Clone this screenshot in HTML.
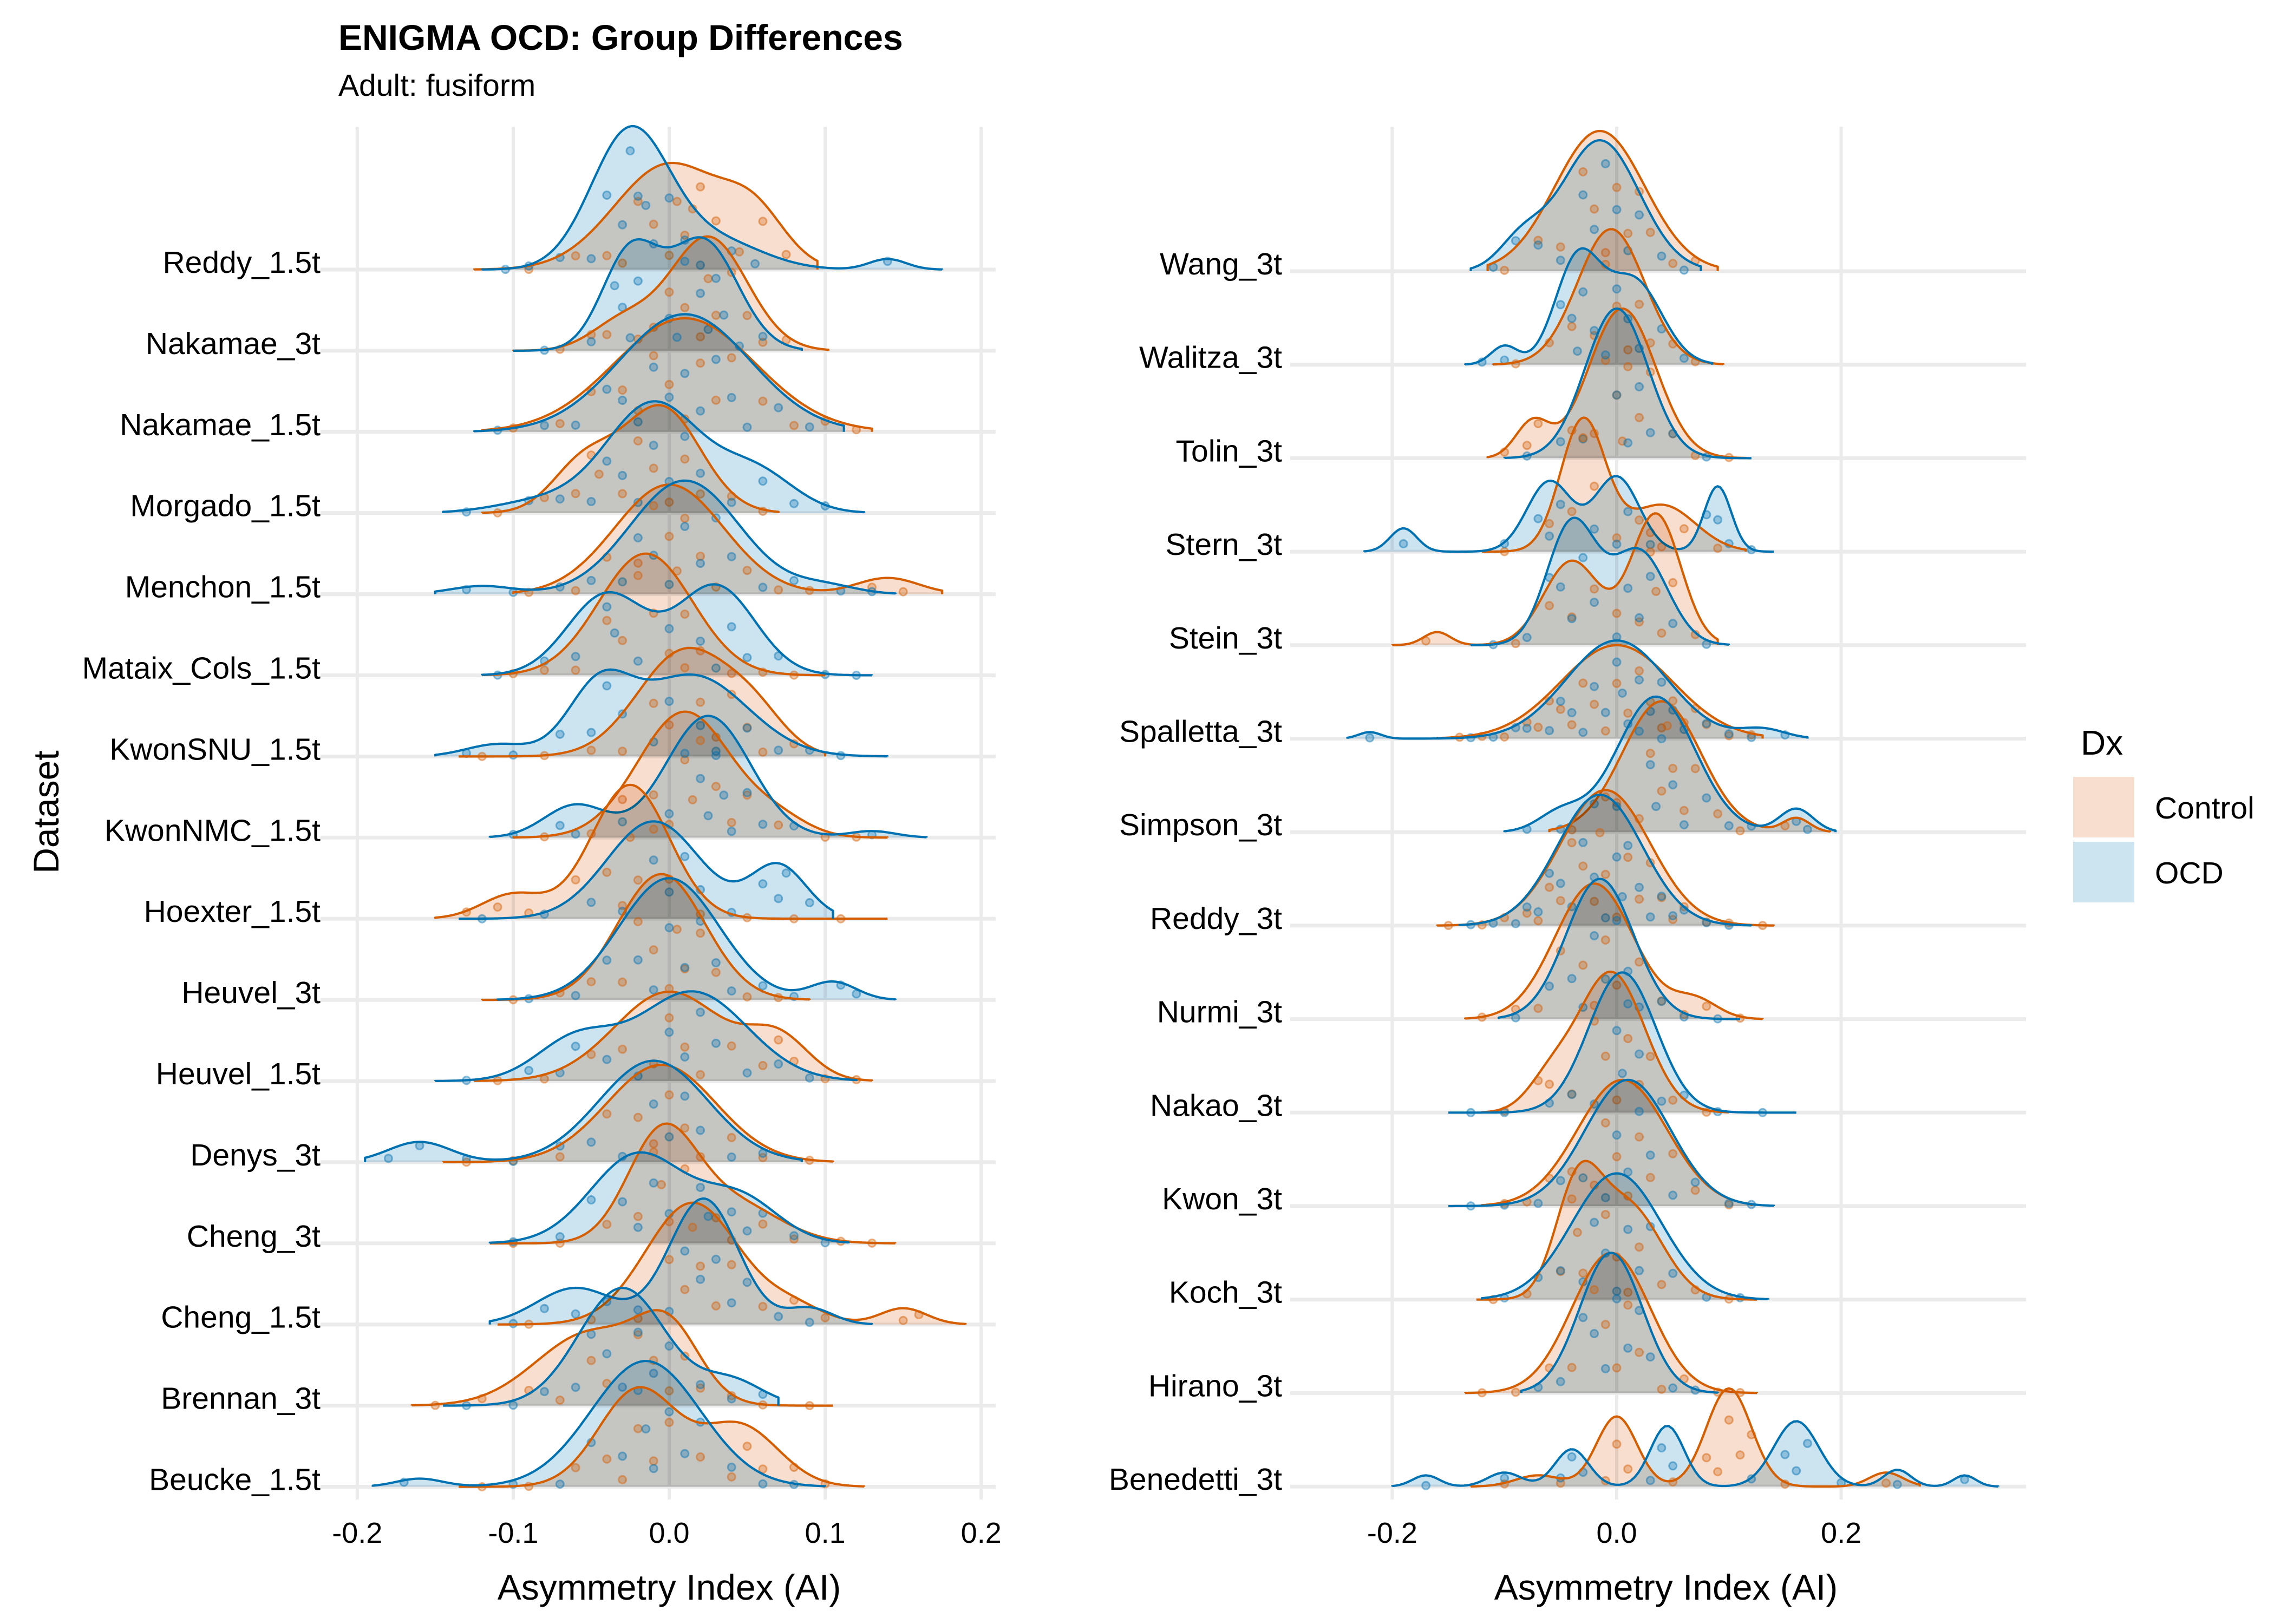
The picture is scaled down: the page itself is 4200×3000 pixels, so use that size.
<!DOCTYPE html>
<html><head><meta charset="utf-8"><style>
html,body{margin:0;padding:0;background:#fff}
svg{display:block;font-family:"Liberation Sans",Arial,sans-serif}
.fill{mix-blend-mode:multiply}
</style></head><body>
<svg id="chart" width="4200" height="3000" viewBox="0 0 4200 3000" xmlns="http://www.w3.org/2000/svg">
<rect width="4200" height="3000" fill="#fff"/>
<text x="625" y="92" font-size="66" font-weight="bold">ENIGMA OCD: Group Differences</text>
<text x="625" y="177" font-size="57">Adult: fusiform</text>
<g id="gridL"></g>
<g id="gridR"></g>
<g id="ridgesL"></g>
<g id="ridgesR"></g>
<g id="labelsL"></g>
<g id="labelsR"></g>
<g id="ticksL"></g>
<g id="ticksR"></g>
<text x="1236" y="2955" font-size="66" text-anchor="middle">Asymmetry Index (AI)</text>
<text x="3077" y="2955" font-size="66" text-anchor="middle">Asymmetry Index (AI)</text>
<text x="0" y="0" font-size="66" text-anchor="middle" transform="translate(108,1500) rotate(-90)">Dataset</text>
<g>
<text x="3843" y="1394" font-size="64">Dx</text>
<rect x="3829" y="1435" width="113" height="112" fill="#F7DECE"/>
<rect x="3829" y="1555" width="113" height="112" fill="#CCE3F0"/>
<text x="3980" y="1512" font-size="57">Control</text>
<text x="3980" y="1632" font-size="57">OCD</text>
</g>
</svg>
<script>
// ---------- LEFT PANEL DATA (top to bottom) ----------
const labelsL = ["Reddy_1.5t","Nakamae_3t","Nakamae_1.5t","Morgado_1.5t","Menchon_1.5t","Mataix_Cols_1.5t","KwonSNU_1.5t","KwonNMC_1.5t","Hoexter_1.5t","Heuvel_3t","Heuvel_1.5t","Denys_3t","Cheng_3t","Cheng_1.5t","Brennan_3t","Beucke_1.5t"];
const ticksL = [-0.2,-0.1,0.0,0.1,0.2];
const tickLabelsL = ["-0.2","-0.1","0.0","0.1","0.2"];
const ctrlBumpsL = [
 [[0,0.035,1.3],[0.055,0.02,0.55]],
 [[0.025,0.025,1.4],[-0.03,0.02,0.35]],
 [[0.01,0.045,1.4]],
 [[-0.055,0.02,0.6],[-0.005,0.025,1.3]],
 [[0.0,0.035,1.35],[0.14,0.02,0.2]],
 [[-0.015,0.03,1.5]],
 [[0.01,0.03,1.3],[0.055,0.02,0.4]],
 [[0.01,0.03,1.55],[0.07,0.02,0.2]],
 [[-0.025,0.025,1.65],[-0.1,0.02,0.3]],
 [[-0.005,0.028,1.55]],
 [[0.0,0.035,1.1],[0.07,0.02,0.5]],
 [[-0.005,0.035,1.2]],
 [[-0.005,0.022,1.3],[0.04,0.03,0.5]],
 [[0.015,0.03,1.5],[0.15,0.015,0.2],[0.08,0.02,0.2]],
 [[0.0,0.02,0.8],[-0.05,0.035,0.9]],
 [[-0.02,0.025,1.2],[0.045,0.025,0.75]]
];
const ocdBumpsL = [
 [[-0.025,0.025,1.7],[0.03,0.03,0.35],[0.14,0.012,0.13]],
 [[-0.025,0.018,1.2],[0.022,0.022,1.35]],
 [[0.01,0.042,1.45]],
 [[-0.01,0.03,1.35],[0.055,0.025,0.5],[-0.08,0.03,0.15]],
 [[0.01,0.035,1.4],[-0.12,0.02,0.1],[0.1,0.02,0.1]],
 [[-0.04,0.025,1.0],[0.03,0.025,1.1]],
 [[-0.045,0.02,0.8],[0.015,0.035,1.0],[-0.11,0.02,0.15]],
 [[0.025,0.027,1.5],[-0.06,0.02,0.4],[0.13,0.015,0.08]],
 [[-0.01,0.03,1.2],[0.07,0.018,0.65]],
 [[0.0,0.032,1.5],[0.105,0.015,0.22]],
 [[0.015,0.035,1.1],[-0.06,0.025,0.5]],
 [[-0.01,0.035,1.25],[-0.16,0.02,0.25]],
 [[-0.02,0.03,1.1],[0.045,0.025,0.55]],
 [[0.022,0.022,1.55],[-0.06,0.025,0.45],[0.09,0.015,0.2]],
 [[-0.03,0.028,1.45],[0.04,0.02,0.3]],
 [[-0.015,0.035,1.55],[-0.16,0.015,0.1]]
];
const ctrlRangeL = [[-0.125,0.095],[-0.1,0.102],[-0.12,0.13],[-0.12,0.07],[-0.1,0.175],[-0.12,0.1],[-0.135,0.1],[-0.1,0.14],[-0.15,0.14],[-0.12,0.09],[-0.125,0.13],[-0.145,0.105],[-0.115,0.145],[-0.11,0.19],[-0.165,0.105],[-0.135,0.125]];
const ocdRangeL = [[-0.12,0.175],[-0.1,0.085],[-0.125,0.112],[-0.145,0.125],[-0.15,0.145],[-0.12,0.13],[-0.15,0.14],[-0.115,0.165],[-0.135,0.105],[-0.11,0.145],[-0.15,0.12],[-0.195,0.085],[-0.115,0.115],[-0.115,0.13],[-0.145,0.07],[-0.19,0.1]];
const ctrlPtsL = [
 [-0.09,-0.06,-0.04,-0.02,-0.01,0.0,0.005,0.01,0.02,0.03,0.045,0.06,0.075,-0.03,0.015],
 [-0.07,-0.05,-0.04,-0.02,0.0,0.01,0.02,0.025,0.03,0.04,0.05,0.06,0.075,-0.01],
 [-0.1,-0.07,-0.05,-0.03,-0.02,-0.01,0.0,0.01,0.02,0.03,0.04,0.06,0.08,0.1,0.12],
 [-0.11,-0.08,-0.06,-0.05,-0.045,-0.03,-0.02,-0.01,0.0,0.01,0.02,0.04,0.06],
 [-0.09,-0.06,-0.04,-0.02,-0.01,0.0,0.005,0.01,0.02,0.03,0.05,0.07,0.09,0.13,0.15],
 [-0.1,-0.08,-0.06,-0.04,-0.03,-0.02,-0.01,0.0,0.01,0.02,0.04,0.06,0.08],
 [-0.12,-0.08,-0.05,-0.03,-0.01,0.0,0.01,0.02,0.03,0.04,0.05,0.06,0.08],
 [-0.08,-0.05,-0.03,-0.01,0.0,0.01,0.015,0.02,0.03,0.04,0.05,0.07,0.1,0.12],
 [-0.13,-0.11,-0.09,-0.06,-0.04,-0.03,-0.025,-0.02,-0.01,0.0,0.02,0.05,0.08,0.11],
 [-0.1,-0.07,-0.05,-0.03,-0.02,-0.01,0.0,0.005,0.01,0.02,0.03,0.05,0.07],
 [-0.11,-0.08,-0.05,-0.03,-0.01,0.0,0.01,0.02,0.04,0.06,0.07,0.08,0.1,0.12],
 [-0.13,-0.1,-0.07,-0.04,-0.02,-0.01,0.0,0.01,0.02,0.04,0.06,0.09],
 [-0.1,-0.07,-0.04,-0.02,-0.01,-0.005,0.0,0.01,0.03,0.04,0.06,0.08,0.11,0.13],
 [-0.09,-0.05,-0.02,0.0,0.01,0.015,0.02,0.03,0.04,0.06,0.08,0.1,0.15,0.16],
 [-0.15,-0.12,-0.09,-0.07,-0.05,-0.04,-0.02,-0.01,0.0,0.01,0.02,0.04,0.06,0.09],
 [-0.12,-0.09,-0.06,-0.04,-0.03,-0.02,-0.01,0.0,0.02,0.04,0.05,0.06,0.08,0.1]
];
const ocdPtsL = [
 [-0.105,-0.09,-0.07,-0.05,-0.04,-0.03,-0.025,-0.02,-0.01,0.0,0.01,0.02,0.04,0.055,0.14,-0.015],
 [-0.08,-0.05,-0.035,-0.03,-0.025,-0.02,0.0,0.01,0.02,0.025,0.03,0.035,0.045,0.06],
 [-0.11,-0.08,-0.06,-0.04,-0.03,-0.02,-0.01,0.0,0.005,0.01,0.02,0.03,0.04,0.05,0.07,0.09],
 [-0.13,-0.09,-0.07,-0.05,-0.04,-0.03,-0.02,-0.01,0.0,0.01,0.02,0.04,0.06,0.08,0.1],
 [-0.13,-0.1,-0.07,-0.05,-0.03,-0.02,-0.01,0.0,0.01,0.02,0.03,0.04,0.06,0.08,0.11,0.13],
 [-0.11,-0.08,-0.06,-0.04,-0.035,-0.02,0.0,0.02,0.03,0.04,0.05,0.07,0.1,0.12],
 [-0.13,-0.1,-0.07,-0.05,-0.04,-0.03,-0.01,0.0,0.02,0.03,0.05,0.07,0.09,0.11],
 [-0.1,-0.07,-0.06,-0.03,0.0,0.01,0.02,0.025,0.03,0.035,0.04,0.05,0.06,0.08,0.13],
 [-0.12,-0.08,-0.05,-0.03,-0.01,0.0,0.01,0.02,0.04,0.06,0.07,0.075,0.09],
 [-0.09,-0.06,-0.04,-0.02,-0.01,0.0,0.01,0.02,0.03,0.04,0.06,0.08,0.11,0.12],
 [-0.13,-0.09,-0.07,-0.06,-0.04,-0.02,0.0,0.01,0.02,0.03,0.05,0.07,0.09],
 [-0.18,-0.16,-0.13,-0.1,-0.07,-0.05,-0.03,-0.01,0.0,0.01,0.02,0.04,0.06],
 [-0.1,-0.07,-0.05,-0.03,-0.02,-0.01,0.0,0.02,0.04,0.05,0.06,0.08,0.1],
 [-0.1,-0.08,-0.06,-0.04,-0.02,0.0,0.01,0.02,0.025,0.03,0.04,0.05,0.07,0.09],
 [-0.13,-0.1,-0.08,-0.06,-0.05,-0.04,-0.03,-0.02,-0.01,0.0,0.02,0.04,0.06],
 [-0.17,-0.1,-0.07,-0.05,-0.03,-0.02,-0.015,-0.01,0.0,0.01,0.02,0.04,0.06,0.08]
];
// ---------- RIGHT PANEL DATA (top to bottom) ----------
const labelsR = ["Wang_3t","Walitza_3t","Tolin_3t","Stern_3t","Stein_3t","Spalletta_3t","Simpson_3t","Reddy_3t","Nurmi_3t","Nakao_3t","Kwon_3t","Koch_3t","Hirano_3t","Benedetti_3t"];
const ticksR = [-0.2,0.0,0.2];
const tickLabelsR = ["-0.2","0.0","0.2"];
const ctrlBumpsR = [
 [[-0.015,0.04,1.5]],
 [[-0.005,0.03,1.45]],
 [[0.005,0.03,1.6],[-0.075,0.015,0.38]],
 [[-0.03,0.02,1.4],[0.04,0.03,0.5]],
 [[0.035,0.022,1.4],[-0.04,0.025,0.9],[-0.16,0.012,0.14]],
 [[0.0,0.05,1.0]],
 [[0.04,0.035,1.4],[0.16,0.012,0.15]],
 [[-0.01,0.04,1.45]],
 [[-0.02,0.035,1.45],[0.07,0.02,0.2]],
 [[-0.005,0.03,1.5],[-0.06,0.02,0.3]],
 [[0.005,0.04,1.35]],
 [[-0.035,0.02,1.1],[0.01,0.03,1.0]],
 [[-0.005,0.035,1.5]],
 [[0.0,0.018,0.75],[0.1,0.02,1.05],[0.24,0.015,0.15],[-0.07,0.02,0.12]]
];
const ocdBumpsR = [
 [[-0.015,0.035,1.4],[-0.085,0.02,0.3]],
 [[-0.035,0.02,1.1],[0.015,0.025,0.9],[-0.1,0.012,0.2]],
 [[0.0,0.028,1.6]],
 [[-0.06,0.02,0.75],[0.0,0.02,0.8],[0.09,0.012,0.7],[-0.19,0.012,0.25]],
 [[-0.04,0.022,1.3],[0.02,0.025,1.0]],
 [[0.0,0.045,1.05],[-0.22,0.01,0.07],[0.13,0.02,0.1]],
 [[0.035,0.035,1.45],[0.16,0.015,0.25],[-0.05,0.02,0.2]],
 [[-0.015,0.038,1.4]],
 [[-0.015,0.03,1.5]],
 [[0.005,0.03,1.5]],
 [[0.01,0.038,1.35]],
 [[0.0,0.04,1.35]],
 [[-0.005,0.028,1.5]],
 [[-0.04,0.015,0.4],[0.045,0.015,0.65],[0.16,0.02,0.7],[0.25,0.012,0.18],[0.31,0.01,0.12],[-0.17,0.012,0.12],[-0.1,0.015,0.15]]
];
const ctrlRangeR = [[-0.115,0.09],[-0.11,0.095],[-0.115,0.115],[-0.12,0.115],[-0.2,0.09],[-0.16,0.13],[-0.06,0.19],[-0.16,0.14],[-0.135,0.13],[-0.12,0.1],[-0.12,0.12],[-0.125,0.125],[-0.135,0.125],[-0.13,0.27]];
const ocdRangeR = [[-0.13,0.075],[-0.135,0.085],[-0.1,0.12],[-0.225,0.14],[-0.13,0.1],[-0.24,0.17],[-0.1,0.195],[-0.14,0.12],[-0.105,0.11],[-0.15,0.16],[-0.15,0.14],[-0.12,0.135],[-0.085,0.09],[-0.2,0.34]];
const ctrlPtsR = [
 [-0.1,-0.07,-0.05,-0.03,-0.02,-0.01,0.0,0.01,0.02,0.03,0.05,0.07],
 [-0.09,-0.06,-0.04,-0.02,-0.01,0.0,0.01,0.02,0.03,0.05,0.07],
 [-0.1,-0.08,-0.07,-0.04,-0.02,-0.01,0.0,0.005,0.01,0.02,0.03,0.05,0.07,0.1],
 [-0.1,-0.06,-0.04,-0.03,-0.02,0.0,0.02,0.03,0.04,0.06,0.09],
 [-0.17,-0.09,-0.06,-0.04,-0.02,0.0,0.02,0.03,0.035,0.04,0.05,0.07],
 [-0.14,-0.12,-0.1,-0.08,-0.07,-0.06,-0.05,-0.04,-0.03,-0.02,-0.01,0.0,0.01,0.02,0.03,0.04,0.05,0.06,0.07,0.08,0.1,0.12],
 [-0.04,-0.01,0.0,0.02,0.03,0.04,0.045,0.05,0.06,0.07,0.09,0.11,0.15],
 [-0.15,-0.12,-0.1,-0.08,-0.07,-0.06,-0.05,-0.04,-0.03,-0.02,-0.015,-0.01,0.0,0.01,0.02,0.03,0.04,0.05,0.06,0.08,0.1,0.13],
 [-0.12,-0.09,-0.07,-0.05,-0.03,-0.02,-0.01,0.0,0.02,0.04,0.06,0.08,0.11],
 [-0.1,-0.07,-0.06,-0.04,-0.02,-0.01,0.0,0.01,0.02,0.03,0.05,0.08],
 [-0.1,-0.08,-0.06,-0.04,-0.02,-0.01,0.0,0.01,0.02,0.03,0.05,0.07,0.1],
 [-0.11,-0.08,-0.05,-0.04,-0.035,-0.03,-0.01,0.0,0.01,0.02,0.04,0.07,0.1],
 [-0.12,-0.09,-0.06,-0.04,-0.02,-0.01,0.0,0.01,0.02,0.04,0.06,0.09,0.11],
 [-0.1,-0.05,-0.01,0.0,0.01,0.05,0.08,0.09,0.1,0.11,0.12,0.15,0.24]
];
const ocdPtsR = [
 [-0.11,-0.09,-0.07,-0.05,-0.03,-0.02,-0.01,0.0,0.01,0.02,0.04,0.06],
 [-0.12,-0.1,-0.05,-0.04,-0.035,-0.03,-0.02,0.0,0.01,0.02,0.04,0.06],
 [-0.08,-0.05,-0.03,-0.01,0.0,0.01,0.02,0.03,0.05,0.08],
 [-0.19,-0.1,-0.07,-0.06,-0.05,-0.02,0.0,0.01,0.03,0.08,0.09,0.1,0.12],
 [-0.11,-0.08,-0.06,-0.05,-0.04,-0.03,-0.02,0.0,0.01,0.02,0.03,0.05,0.08],
 [-0.22,-0.13,-0.11,-0.09,-0.08,-0.06,-0.05,-0.04,-0.03,-0.02,-0.01,0.0,0.005,0.01,0.02,0.03,0.04,0.05,0.06,0.08,0.1,0.12,0.15],
 [-0.08,-0.05,-0.02,0.0,0.02,0.03,0.035,0.04,0.05,0.06,0.08,0.1,0.12,0.16,0.17],
 [-0.13,-0.11,-0.09,-0.08,-0.07,-0.06,-0.05,-0.04,-0.03,-0.02,-0.01,0.0,0.005,0.01,0.02,0.03,0.04,0.05,0.06,0.08,0.1],
 [-0.09,-0.06,-0.04,-0.03,-0.02,-0.01,0.0,0.01,0.02,0.04,0.06,0.09],
 [-0.13,-0.1,-0.06,-0.04,-0.02,0.0,0.005,0.01,0.02,0.04,0.06,0.09,0.13],
 [-0.13,-0.1,-0.07,-0.05,-0.03,-0.01,0.0,0.01,0.02,0.03,0.05,0.07,0.1,0.12],
 [-0.1,-0.07,-0.05,-0.03,-0.02,-0.01,0.0,0.01,0.02,0.03,0.05,0.08,0.11],
 [-0.07,-0.05,-0.03,-0.02,-0.01,0.0,0.01,0.02,0.03,0.05,0.07],
 [-0.17,-0.1,-0.05,-0.04,-0.03,0.03,0.04,0.05,0.12,0.15,0.16,0.17,0.2,0.25,0.31]
];

const NS = "http://www.w3.org/2000/svg";
const CTRL = "#D55E00", OCD = "#0072B2";
function mk(tag, attrs, parent) {
  const el = document.createElementNS(NS, tag);
  for (const k in attrs) el.setAttribute(k, attrs[k]);
  parent.appendChild(el);
  return el;
}
function dens(bumps, x) {
  let s = 0;
  for (const b of bumps) { const z = (x - b[0]) / b[1]; s += b[2] * Math.exp(-0.5 * z * z); }
  return s;
}
function drawPanel(cfg) {
  const gGrid = document.getElementById(cfg.grid);
  const gR = document.getElementById(cfg.ridges);
  const gLab = document.getElementById(cfg.labelsG);
  const gTick = document.getElementById(cfg.ticksG);
  const xs = v => cfg.x0 + v * cfg.xk;
  const ys = i => cfg.y0 + i * cfg.dy;
  cfg.ticks.forEach((t, i) => {
    const l = mk("line", {x1: xs(t), x2: xs(t), y1: 234, y2: 2770, stroke: "#EBEBEB", "stroke-width": 6}, gGrid);
    
    
    const tx = mk("text", {x: xs(t), y: 2850, "font-size": 54, "text-anchor": "middle", fill: "#000"}, gTick);
    tx.textContent = cfg.tickLabels[i];
    
    
  });
  cfg.labels.forEach((lab, i) => {
    const l = mk("line", {x1: cfg.gx1, x2: cfg.gx2, y1: ys(i), y2: ys(i), stroke: "#EBEBEB", "stroke-width": 7}, gGrid);
    
    
    const tx = mk("text", {x: cfg.labX, y: ys(i) + 6, "font-size": 57, "text-anchor": "end", fill: "#000"}, gLab);
    tx.textContent = lab;
    
    
  });
  cfg.labels.forEach((lab, i) => {
    const base = ys(i);
    const row = mk("g", {}, gR);
    
    
    const groups = [
      {b: cfg.cb[i], r: cfg.cr[i], p: cfg.cp[i], col: CTRL, fill: "#F7DECE", name: "control"},
      {b: cfg.ob[i], r: cfg.or[i], p: cfg.op[i], col: OCD, fill: "#CCE3F0", name: "ocd"}
    ];
    const lines = [];
    groups.forEach(g => {
      const N = 160;
      let pts = [];
      for (let k = 0; k <= N; k++) {
        const v = g.r[0] + (g.r[1] - g.r[0]) * k / N;
        pts.push([xs(v), base - dens(g.b, v) * cfg.dy]);
      }
      const top = pts.map(p => p[0].toFixed(1) + "," + p[1].toFixed(1)).join(" L");
      const f = mk("path", {d: "M" + xs(g.r[0]).toFixed(1) + "," + base + " L" + top + " L" + xs(g.r[1]).toFixed(1) + "," + base + " Z", fill: g.fill, class: "fill"}, row);
      
      
      lines.push({d: "M" + xs(g.r[0]).toFixed(1) + "," + base + " L" + top + " L" + xs(g.r[1]).toFixed(1) + "," + base, col: g.col, name: g.name});
    });
    groups.forEach((g, gi) => {
      g.p.forEach((v, k) => {
        const frac = ((k * 0.618 + i * 0.37 + gi * 0.23) % 1) * 0.82 + 0.06;
        const y = base - frac * dens(g.b, v) * cfg.dy;
        const c = mk("circle", {cx: xs(v).toFixed(1), cy: y.toFixed(1), r: 7, fill: g.col, "fill-opacity": 0.3, stroke: g.col, "stroke-opacity": 0.45, "stroke-width": 3}, row);
        
        
      });
    });
    lines.forEach(ln => {
      const p = mk("path", {d: ln.d, fill: "none", stroke: ln.col, "stroke-width": 4.2, "stroke-linejoin": "round"}, row);
      
      
    });
  });
}
drawPanel({grid: "gridL", ridges: "ridgesL", labelsG: "labelsL", ticksG: "ticksL",
  x0: 1236, xk: 2881, y0: 498, dy: 149.9, gx1: 592, gx2: 1839, labX: 592,
  ticks: ticksL, tickLabels: tickLabelsL, labels: labelsL,
  cb: ctrlBumpsL, ob: ocdBumpsL, cr: ctrlRangeL, or: ocdRangeL, cp: ctrlPtsL, op: ocdPtsL});
drawPanel({grid: "gridR", ridges: "ridgesR", labelsG: "labelsR", ticksG: "ticksR",
  x0: 2986, xk: 2073, y0: 501, dy: 172.7, gx1: 2383, gx2: 3742, labX: 2368,
  ticks: ticksR, tickLabels: tickLabelsR, labels: labelsR,
  cb: ctrlBumpsR, ob: ocdBumpsR, cr: ctrlRangeR, or: ocdRangeR, cp: ctrlPtsR, op: ocdPtsR});
</script>
</body></html>
